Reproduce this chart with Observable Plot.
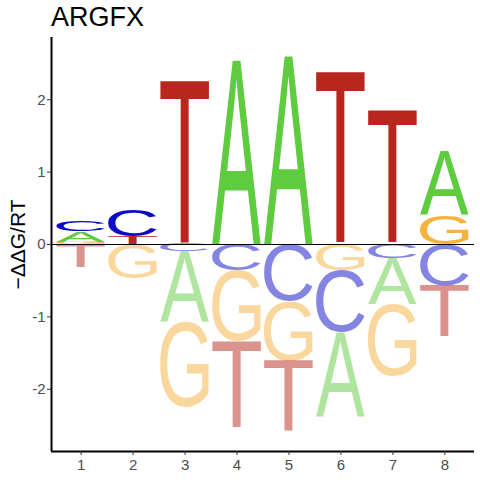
<!DOCTYPE html>
<html><head><meta charset="utf-8">
<script src="https://cdn.jsdelivr.net/npm/d3@7"></script>
<script src="https://cdn.jsdelivr.net/npm/@observablehq/plot@0.6"></script>
<style>
body{margin:0;background:#fff;}
#wrap{position:relative;width:480px;height:480px;}
#wrap svg{display:block;}
#title{position:absolute;left:51px;top:4px;font-family:"Liberation Sans",Arial,sans-serif;font-size:27px;line-height:27px;color:#000;z-index:2;}
</style></head><body>
<div id="wrap"><div id="title"></div></div>
<script>
// ---- data ----
const titleText = "ARGFX";
const yLabel = "\u2212\u0394\u0394G/RT";
const positions = [1, 2, 3, 4, 5, 6, 7, 8];
const letters = ["A", "C", "G", "T"];
const valA = [0.145, 0, -0.98, 2.54, 2.60, -1.17, -0.63, 0.89];
const valC = [0.15, 0.36, -0.10, -0.36, -0.79, -0.86, -0.20, -0.57];
const valG = [0.03, -0.47, -1.18, -0.98, -0.82, -0.36, -1.00, 0.40];
const valT = [-0.325, 0.11, 2.27, -1.20, -0.99, 2.39, 1.85, -0.71];
const letterColors = ["#5fcb3f", "#0a0ac8", "#f5b23c", "#b8271e"];
const yTicks = [-2, -1, 0, 1, 2];

document.getElementById("title").textContent = titleText;

// ---- stacking ----
const series = [valA, valC, valG, valT];
const rows = [];
positions.forEach((p, i) => {
  const items = letters.map((l, k) => ({pos: p, letter: l, value: series[k][i], color: letterColors[k]}))
    .filter(d => d.value !== 0);
  const pos = items.filter(d => d.value > 0).sort((a, b) => a.value - b.value);
  const neg = items.filter(d => d.value < 0).sort((a, b) => b.value - a.value);
  let acc = 0;
  for (const d of pos) { d.y1 = acc; acc += d.value; d.y2 = acc; rows.push(d); }
  acc = 0;
  for (const d of neg) { d.y1 = acc; acc += d.value; d.y2 = acc; rows.push(d); }
});

// ---- glyph metrics ----
const FONT = "Liberation Sans";
const ctx = document.createElement("canvas").getContext("2d");
ctx.font = `100px "${FONT}"`;
ctx.textAlign = "left";
ctx.textBaseline = "alphabetic";
const metrics = {};
letters.forEach(l => {
  const m = ctx.measureText(l);
  metrics[l] = {L: m.actualBoundingBoxLeft, R: m.actualBoundingBoxRight, A: m.actualBoundingBoxAscent, D: m.actualBoundingBoxDescent};
});
const halfW = 0.47;

function logoMark(...args) {
  const scales = args.find(a => a && typeof a.x === "function" && typeof a.y === "function");
  const g = d3.create("svg:g").attr("text-anchor", "start");
  for (const d of rows) {
    const x1 = scales.x(d.pos - halfW), x2 = scales.x(d.pos + halfW);
    const yt = scales.y(Math.max(d.y1, d.y2)), yb = scales.y(Math.min(d.y1, d.y2));
    const m = metrics[d.letter];
    const sx = (x2 - x1) / (m.L + m.R), sy = (yb - yt) / (m.A + m.D);
    g.append("text")
      .attr("font-family", FONT)
      .attr("font-size", 100)
      .attr("text-anchor", "start")
      .attr("dominant-baseline", "alphabetic")
      .attr("fill", d.color)
      .attr("fill-opacity", d.value < 0 ? 0.5 : 1)
      .attr("transform", `translate(${x1},${yt}) scale(${sx},${sy}) translate(${m.L},${m.A})`)
      .text(d.letter);
  }
  return g.node();
}

const xDom = [0.43, 8.57], yDom = [-2.86, 2.86];
const plot = Plot.plot({
  width: 480, height: 480,
  marginTop: 37, marginBottom: 29, marginLeft: 51, marginRight: 6,
  x: {domain: xDom, axis: null},
  y: {domain: yDom, axis: null},
  style: {fontFamily: "Liberation Sans, Arial, sans-serif", background: "white", color: "black"},
  marks: [
    logoMark,
    Plot.ruleY([0], {stroke: "black", strokeWidth: 1}),
    Plot.ruleX([xDom[0]], {y1: yDom[0], y2: yDom[1], stroke: "black", strokeWidth: 2}),
    Plot.ruleY([yDom[0]], {x1: xDom[0], x2: xDom[1], stroke: "black", strokeWidth: 2}),
    Plot.axisY(yTicks, {tickSize: 4, tickPadding: 2, fontSize: 15, tickFormat: d => String(d), fill: "#4D4D4D", stroke: "#333333", label: null}),
    Plot.axisX(positions, {tickSize: 4, tickPadding: 4, fontSize: 15, tickFormat: d => String(d), fill: "#4D4D4D", stroke: "#333333", label: null}),
    Plot.text([yLabel], {text: d => d, frameAnchor: "left", textAnchor: "middle", dx: -33, rotate: -90, fontSize: 21, fill: "black"})
  ]
});
document.getElementById("wrap").appendChild(plot);
</script>
</body></html>
